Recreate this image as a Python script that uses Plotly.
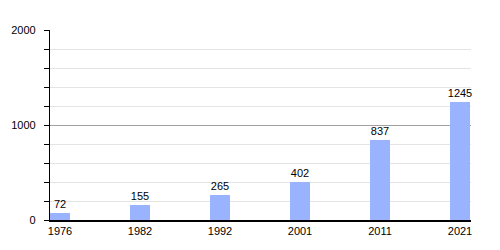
import plotly.graph_objects as go

years = ["1976", "1982", "1992", "2001", "2011", "2021"]
population = [72, 155, 265, 402, 837, 1245]
y_ticks = [0, 1000, 2000]

fig = go.Figure(go.Bar(
    x=years, y=population,
    text=[str(v) for v in population], textposition="outside",
    textfont=dict(size=11, color="black", family="Liberation Sans, Arial"),
    marker=dict(color="#99b3ff", line=dict(width=0)),
    width=0.25, cliponaxis=False, constraintext="none",
))

fig.update_layout(
    width=500, height=250,
    margin=dict(l=50, r=29, t=30, b=30),
    paper_bgcolor="white", plot_bgcolor="white",
    font=dict(family="Liberation Sans, Arial", size=11, color="black"),
    showlegend=False,
    bargap=0,
)
fig.update_xaxes(
    type="category", range=[-0.125, 5.1375],
    showline=True, linecolor="black", linewidth=1.5,
    ticks="", showgrid=False, ticklabelstandoff=0,
    tickfont=dict(size=11),
)
fig.update_yaxes(
    range=[0, 2000], tickvals=y_ticks,
    showline=True, linecolor="black", linewidth=1.2,
    ticks="outside", ticklen=5, tickcolor="black",
    showgrid=True, gridcolor="#a0a0a0", gridwidth=1,
    zeroline=False, ticklabelstandoff=6,
    tickfont=dict(size=11),
    minor=dict(dtick=200, showgrid=True, gridcolor="#e4e4e4", ticks="outside", ticklen=5, tickcolor="black"),
)

fig.write_html("out.html")
